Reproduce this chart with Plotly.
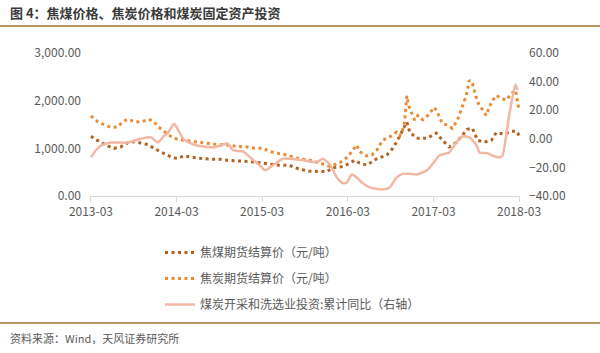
import plotly.graph_objects as go

# 焦煤期货结算价（元/吨）
coal_dates = ["2013-03-01","2013-03-22","2013-04-13","2013-05-12","2013-06-07","2013-07-06","2013-08-06","2013-09-01",
              "2013-09-30","2013-10-29","2013-11-25","2013-12-24","2014-01-23","2014-02-18","2014-03-09","2014-03-30",
              "2014-04-29","2014-06-11","2014-08-05","2014-09-04","2014-10-04","2014-11-15","2015-01-10","2015-03-04",
              "2015-05-03","2015-06-27","2015-08-09","2015-09-21","2015-11-03","2015-12-02","2015-12-27","2016-02-09",
              "2016-03-09","2016-03-30","2016-04-20","2016-05-20","2016-07-02","2016-08-14","2016-09-08","2016-09-29",
              "2016-10-20","2016-11-07","2016-11-20","2016-12-19","2017-02-01","2017-03-13","2017-04-08","2017-05-07",
              "2017-06-06","2017-07-02","2017-07-23","2017-08-14","2017-09-05","2017-10-04","2017-11-03","2017-11-24",
              "2017-12-28","2018-01-27","2018-02-18","2018-03-09"]
coal_vals = [1255,1180,1130,1050,1000,1030,1120,1140,1110,1080,1000,920,850,800,790,840,
             820,790,770,770,750,740,720,690,650,640,560,520,510,510,590,620,
             690,750,690,650,780,860,1000,1170,1380,1550,1340,1210,1210,1320,1170,1030,
             1120,1280,1400,1420,1170,1130,1170,1330,1300,1360,1360,1210]

# 焦炭期货结算价（元/吨）
coke_dates = ["2013-03-01","2013-03-30","2013-04-25","2013-05-25","2013-06-24","2013-07-15","2013-08-06","2013-09-01",
              "2013-09-30","2013-11-03","2013-11-25","2013-12-11","2014-01-02","2014-01-23","2014-02-13","2014-03-05",
              "2014-03-30","2014-04-29","2014-06-11","2014-07-10","2014-08-22","2014-10-04","2014-11-15","2014-12-28",
              "2015-02-01","2015-03-04","2015-04-04","2015-05-03","2015-06-15","2015-07-27","2015-09-13","2015-11-03",
              "2015-12-15","2016-01-27","2016-03-01","2016-03-21","2016-04-08","2016-04-20","2016-05-20","2016-06-11",
              "2016-07-02","2016-07-27","2016-08-26","2016-09-25","2016-10-08","2016-10-20","2016-10-29","2016-11-07",
              "2016-11-15","2016-11-28","2016-12-11","2016-12-24","2017-01-14","2017-02-05","2017-02-22","2017-03-05",
              "2017-03-17","2017-04-08","2017-04-29","2017-05-20","2017-06-11","2017-07-02","2017-07-19","2017-08-01",
              "2017-08-14","2017-09-05","2017-09-26","2017-10-12","2017-11-03","2017-11-24","2017-12-15","2018-01-06",
              "2018-01-27","2018-02-14","2018-03-01"]
coke_vals = [1680,1560,1500,1440,1450,1560,1610,1560,1550,1610,1560,1460,1380,1290,1230,1190,
             1170,1150,1120,1100,1080,1070,1040,1030,1000,1000,930,900,860,790,760,690,
             620,700,820,960,1070,930,840,860,960,1170,1240,1340,1260,1380,1550,2100,
             1900,1740,1590,1690,1600,1690,1780,1860,1760,1520,1490,1420,1590,1860,2110,2430,
             2360,1970,1800,1690,1970,2110,2050,2010,2150,2220,1800]

# 煤炭开采和洗选业投资:累计同比（%）
inv_dates = ["2013-03-01","2013-03-22","2013-04-13","2013-05-25","2013-08-06","2013-09-30","2013-11-12","2013-12-11",
             "2014-01-06","2014-01-23","2014-02-18","2014-03-05","2014-03-30","2014-04-29","2014-05-28","2014-08-05",
             "2014-09-04","2014-10-04","2014-10-29","2014-12-11","2015-01-23","2015-02-22","2015-03-13","2015-04-12",
             "2015-05-28","2015-06-27","2015-08-22","2015-10-20","2015-11-15","2015-12-15","2016-01-14","2016-02-09",
             "2016-02-26","2016-03-17","2016-04-08","2016-05-03","2016-06-02","2016-07-27","2016-08-26","2016-09-25",
             "2016-10-20","2016-11-20","2016-12-19","2017-02-01","2017-02-26","2017-03-26","2017-05-07","2017-06-06",
             "2017-07-02","2017-08-01","2017-09-01","2017-09-13","2017-10-16","2017-11-07","2017-12-07","2017-12-20",
             "2018-01-19","2018-02-14","2018-02-22"]
inv_vals = [-13,-8,-4.7,-2.6,-2.6,0,1,-2.6,
            2,4,10.6,7,0,-3,-4.7,-6,
            -4.7,-3.3,-8,-9,-15,-19,-22,-19,
            -14,-14,-15,-16.5,-14,-18,-27,-31,
            -30.5,-25,-27,-31,-34,-35.5,-34,-27,
            -24.5,-24.5,-25,-22,-17.5,-11.7,-9.5,-2.6,
            1.6,1,-4.7,-9.5,-10,-11.7,-13,-11.7,
            17.6,38,34]

x_ticks = ["2013-03-01","2014-03-01","2015-03-01","2016-03-01","2017-03-01","2018-03-01"]
x_tick_text = ["2013-03","2014-03","2015-03","2016-03","2017-03","2018-03"]
left_ticks = [0, 1000, 2000, 3000]
right_ticks = [-40, -20, 0, 20, 40, 60]

FONT = "Noto Sans CJK SC, Noto Sans, sans-serif"
GRAY = "#595959"
RULE = "#B8945F"
W, H = 600, 353

fig = go.Figure()
fig.add_trace(go.Scatter(
    x=inv_dates, y=inv_vals, yaxis="y2", mode="lines",
    name="煤炭开采和洗选业投资:累计同比（右轴）",
    line=dict(color="#F2B7A5", width=2.5, shape="spline", smoothing=0.6),
    legendgroup="c", legendrank=3))
fig.add_trace(go.Scatter(
    x=coal_dates, y=coal_vals, mode="lines", name="焦煤期货结算价（元/吨）",
    line=dict(color="#B3621F", width=3, dash="3px,3.5px"),
    legendgroup="a", legendrank=1))
fig.add_trace(go.Scatter(
    x=coke_dates, y=coke_vals, mode="lines", name="焦炭期货结算价（元/吨）",
    line=dict(color="#E98B33", width=3, dash="3px,3.5px"),
    legendgroup="b", legendrank=2))

fig.update_layout(
    width=W, height=H,
    margin=dict(l=0, r=0, t=0, b=0, autoexpand=False),
    paper_bgcolor="white", plot_bgcolor="rgba(0,0,0,0)",
    font=dict(family=FONT, size=12, color=GRAY),
    showlegend=True,
    legend=dict(x=160 / W, y=1 - 238 / H, xanchor="left", yanchor="top",
                font=dict(size=12, color=GRAY), tracegroupgap=7,
                traceorder="grouped", bgcolor="rgba(0,0,0,0)"),
    xaxis=dict(type="date", range=["2013-02-25", "2018-03-05"],
               domain=[90 / W, 520 / W], automargin=False,
               tickvals=x_ticks, ticktext=x_tick_text,
               showgrid=False, showline=True, linecolor="#D9D9D9", linewidth=1,
               ticks="outside", ticklen=5, tickcolor="#D9D9D9",
               tickfont=dict(size=12, color=GRAY), zeroline=False),
    yaxis=dict(range=[0, 3000], tickvals=left_ticks, tickformat=",.2f",
               domain=[1 - 196 / H, 1 - 53 / H], automargin=False,
               showgrid=False, zeroline=False, showline=False,
               tickfont=dict(size=12, color=GRAY), ticks="", ticklabelstandoff=8),
    yaxis2=dict(range=[-40, 60], tickvals=right_ticks, tickformat=".2f",
                overlaying="y", side="right", automargin=False,
                showgrid=False, zeroline=False, showline=False,
                tickfont=dict(size=12, color=GRAY), ticks="", ticklabelstandoff=8),
    shapes=[
        dict(type="line", xref="paper", yref="paper", x0=0, x1=1,
             y0=1 - 26 / H, y1=1 - 26 / H, line=dict(color=RULE, width=2), layer="above"),
        dict(type="line", xref="paper", yref="paper", x0=0, x1=1,
             y0=1 - 323 / H, y1=1 - 323 / H, line=dict(color=RULE, width=2), layer="above"),
    ],
)

fig.add_annotation(text="<b>图 4：焦煤价格、焦炭价格和煤炭固定资产投资</b>",
                   xref="paper", yref="paper", x=8 / W, y=1 - 12 / H,
                   xanchor="left", yanchor="middle", showarrow=False,
                   font=dict(size=13, color="#3A3A3A", family=FONT))
fig.add_annotation(text="资料来源：Wind，天风证券研究所",
                   xref="paper", yref="paper", x=8 / W, y=1 - 338 / H,
                   xanchor="left", yanchor="middle", showarrow=False,
                   font=dict(size=11, color=GRAY, family=FONT))

fig.write_html("out.html")
